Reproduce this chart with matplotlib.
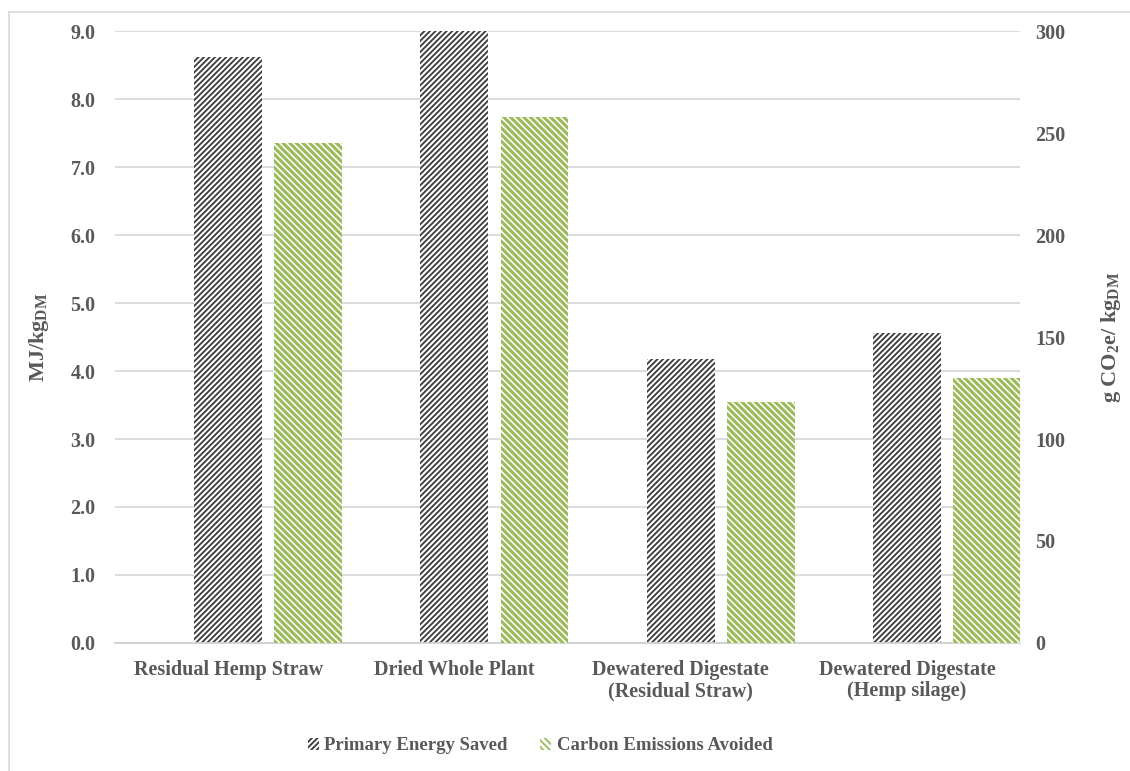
import matplotlib.pyplot as plt
import numpy as np
from matplotlib.lines import Line2D
from matplotlib.patches import Patch

# data
categories = ['Residual Hemp Straw', 'Dried Whole Plant',
              'Dewatered Digestate\n(Residual Straw)', 'Dewatered Digestate\n(Hemp silage)']
energy_saved = [8.62, 9.0, 4.17, 4.56]        # MJ/kg DM (left axis)
carbon_avoided = [245, 258, 118, 130]          # g CO2e/kg DM (right axis)

plt.rcParams['font.family'] = 'Liberation Serif'
plt.rcParams['font.weight'] = 'bold'
plt.rcParams['mathtext.fontset'] = 'custom'
plt.rcParams['mathtext.rm'] = 'Liberation Serif:bold'
plt.rcParams['mathtext.it'] = 'Liberation Serif:bold'
plt.rcParams['mathtext.bf'] = 'Liberation Serif:bold'
plt.rcParams['hatch.linewidth'] = 1.3

txt = '#595959'
black_h = '#3a3a3a'
green = '#9bbb59'

fig = plt.figure(figsize=(11.3, 7.71), dpi=100)
ax = fig.add_axes([115 / 1130, 1 - 643 / 771, 905 / 1130, 612 / 771])
ax2 = ax.twinx()

x = np.arange(len(categories))
w = 0.30
b1 = ax.bar(x, energy_saved, w, color='white', edgecolor=black_h, linewidth=0, hatch='//////')
b2 = ax2.bar(x + 0.354, carbon_avoided, w, color='white', edgecolor=green, linewidth=0,
             hatch='\\\\\\\\\\')
for p in b2:
    if hasattr(p, 'set_hatch_linewidth'):
        p.set_hatch_linewidth(2.2)

ax.set_xlim(-0.5, 3.5)
ax.set_ylim(0, 9)
ax2.set_ylim(0, 300)
ax.set_yticks(np.arange(0, 9.1, 1))
ax.set_yticklabels([f'{v:.1f}' for v in np.arange(0, 9.1, 1)])
ax2.set_yticks(range(0, 301, 50))
ax.set_xticks(x)
ax.set_xticklabels(categories, fontsize=16, color=txt, linespacing=1.1)

ax.yaxis.grid(True, color='#d9d9d9', linewidth=1.3)
ax.set_axisbelow(True)
for a in (ax, ax2):
    for s in a.spines.values():
        s.set_visible(False)
    a.tick_params(length=0, labelsize=14.5, labelcolor=txt)
ax.spines['bottom'].set_visible(True)
ax.spines['bottom'].set_color('#d0d0d0')
ax.spines['bottom'].set_linewidth(1.3)
ax.tick_params(axis='y', pad=14)
ax.tick_params(axis='x', pad=12)
ax2.tick_params(axis='y', pad=11)

ax.set_ylabel(r'MJ/kg$_{\mathrm{DM}}$', fontsize=16, fontweight='bold', color=txt, labelpad=14)
ax2.set_ylabel(r'g CO$_{\mathrm{2}}$e/ kg$_{\mathrm{DM}}$', fontsize=16, fontweight='bold',
               color=txt, labelpad=24)

handles = [Patch(facecolor='white', edgecolor=black_h, linewidth=0, hatch='//////'),
           Patch(facecolor='white', edgecolor=green, linewidth=0, hatch='\\\\\\\\\\')]
fig.legend(handles, ['Primary Energy Saved', 'Carbon Emissions Avoided'],
           loc='center', bbox_to_anchor=(540 / 1130, 1 - 746 / 771), ncol=2, frameon=False,
           fontsize=13.5, labelcolor=txt, handlelength=0.6, handleheight=0.6,
           handletextpad=0.3, columnspacing=1.7)

# light frame on the left and top edges
fig.add_artist(Line2D([9 / 1130, 9 / 1130], [0, 1 - 12 / 771], transform=fig.transFigure,
                      color='#d9d9d9', linewidth=1.2))
fig.add_artist(Line2D([9 / 1130, 1], [1 - 12 / 771, 1 - 12 / 771], transform=fig.transFigure,
                      color='#d9d9d9', linewidth=1.2))

plt.savefig('out.png', dpi=100)
plt.close()
